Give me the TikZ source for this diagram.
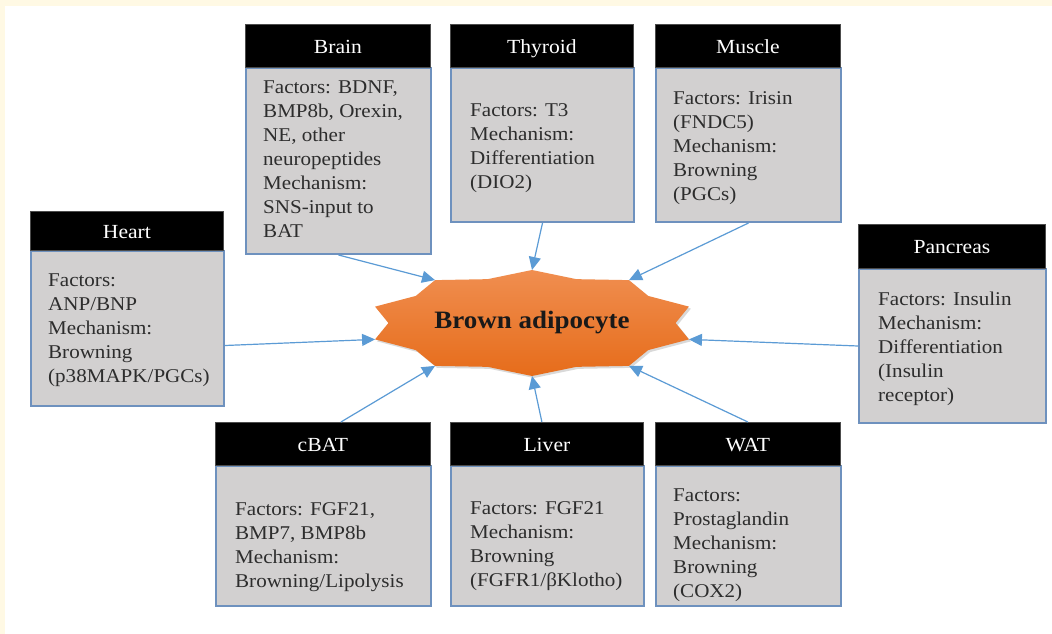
\documentclass[tikz,border=0pt]{standalone}
\usepackage{fontspec}
\setmainfont{Liberation Serif}[FakeStretch=1.08]
\usetikzlibrary{arrows.meta,shadows}
\definecolor{cream}{RGB}{255,249,228}
\definecolor{boxgray}{RGB}{210,208,208}
\definecolor{boxblue}{RGB}{110,145,190}
\definecolor{arrblue}{RGB}{91,155,213}
\definecolor{txtgray}{RGB}{45,45,45}
\definecolor{orangetop}{RGB}{240,142,80}
\definecolor{orangebot}{RGB}{230,108,26}
\begin{document}
\begin{tikzpicture}[x=1pt,y=-1pt,
 hdr/.style={fill=black, draw=black!70, line width=0.8pt, text=white, font=\fontsize{20}{24}\selectfont, anchor=north west, inner sep=0pt, text height=16pt, text depth=1pt},
 bodybox/.style={fill=boxgray, draw=boxblue, line width=2pt, anchor=north west, inner sep=0pt},
 txt/.style={anchor=north west, align=left, inner sep=0pt, text=txtgray, font=\fontsize{19.5}{24}\selectfont},
 arr/.style={draw=arrblue, line width=1.2pt, -{Triangle[length=13pt,width=12pt]}},
 starfill/.style={top color=orangetop, bottom color=orangebot, draw=none,
   drop shadow={shadow xshift=2pt, shadow yshift=-2pt, opacity=0.15, fill=black}}]
\useasboundingbox (0,0) rectangle (1052,634);
\fill[white] (0,0) rectangle (1052,634);
\fill[cream] (0,0) rectangle (1052,6);
\fill[cream] (0,0) rectangle (5,634);

% Brain
\node[bodybox, minimum width=185pt, minimum height=186pt] (brain) at (245,67) {};
\node[hdr, minimum width=185pt, minimum height=43pt] (brainH) at (245,24) {Brain};
\node[txt] (brainT) at (263,81) {Factors: BDNF,\\BMP8b, Orexin,\\NE, other\\neuropeptides\\Mechanism:\\SNS-input to\\BAT};

% Thyroid
\node[bodybox, minimum width=183pt, minimum height=154pt] (thyroid) at (450,67) {};
\node[hdr, minimum width=183pt, minimum height=43pt] (thyroidH) at (450,24) {Thyroid};
\node[txt] (thyroidT) at (470,103) {Factors: T3\\Mechanism:\\Differentiation\\(DIO2)};

% Muscle
\node[bodybox, minimum width=185pt, minimum height=154pt] (muscle) at (655,67) {};
\node[hdr, minimum width=185pt, minimum height=43pt] (muscleH) at (655,24) {Muscle};
\node[txt] (muscleT) at (673,91) {Factors: Irisin\\(FNDC5)\\Mechanism:\\Browning\\(PGCs)};

% Heart
\node[bodybox, minimum width=193pt, minimum height=155pt] (heart) at (30,250) {};
\node[hdr, minimum width=193pt, minimum height=39pt] (heartH) at (30,211) {Heart};
\node[txt] (heartT) at (48,274) {Factors:\\ANP/BNP\\Mechanism:\\Browning\\(p38MAPK/PGCs)};

% Pancreas
\node[bodybox, minimum width=187pt, minimum height=154pt] (pancreas) at (858,268) {};
\node[hdr, minimum width=187pt, minimum height=44pt] (pancreasH) at (858,224) {Pancreas};
\node[txt] (pancreasT) at (878,292) {Factors: Insulin\\Mechanism:\\Differentiation\\(Insulin\\receptor)};

% cBAT
\node[bodybox, minimum width=215pt, minimum height=140pt] (cbat) at (215,465) {};
\node[hdr, minimum width=215pt, minimum height=43pt] (cbatH) at (215,422) {cBAT};
\node[txt] (cbatT) at (235,502) {Factors: FGF21,\\BMP7, BMP8b\\Mechanism:\\Browning/Lipolysis};

% Liver
\node[bodybox, minimum width=193pt, minimum height=140pt] (liver) at (450,465) {};
\node[hdr, minimum width=193pt, minimum height=43pt] (liverH) at (450,422) {Liver};
\node[txt] (liverT) at (470,501) {Factors: FGF21\\Mechanism:\\Browning\\(FGFR1/βKlotho)};

% WAT
\node[bodybox, minimum width=185pt, minimum height=140pt] (wat) at (655,465) {};
\node[hdr, minimum width=185pt, minimum height=43pt] (watH) at (655,422) {WAT};
\node[txt] (watT) at (673,489) {Factors:\\Prostaglandin\\Mechanism:\\Browning\\(COX2)};

% Star
\begin{scope}[shift={(532,323)}]
\path[starfill] (90:165pt and 53pt) -- (108:143.6pt and 46.1pt)
 -- (126:165pt and 53pt) -- (144:143.6pt and 46.1pt)
 -- (162:165pt and 53pt) -- (180:143.6pt and 46.1pt)
 -- (198:165pt and 53pt) -- (216:143.6pt and 46.1pt)
 -- (234:165pt and 53pt) -- (252:143.6pt and 46.1pt)
 -- (270:165pt and 53pt) -- (288:143.6pt and 46.1pt)
 -- (306:165pt and 53pt) -- (324:143.6pt and 46.1pt)
 -- (342:165pt and 53pt) -- (0:143.6pt and 46.1pt)
 -- (18:165pt and 53pt) -- (36:143.6pt and 46.1pt)
 -- (54:165pt and 53pt) -- (72:143.6pt and 46.1pt) -- cycle;
\coordinate (s90) at (90:165pt and 53pt);
\coordinate (s126) at (126:165pt and 53pt);
\coordinate (s54) at (54:165pt and 53pt);
\coordinate (s198) at (198:165pt and 53pt);
\coordinate (s342) at (342:165pt and 53pt);
\coordinate (s234) at (234:165pt and 53pt);
\coordinate (s270) at (270:165pt and 53pt);
\coordinate (s306) at (306:165pt and 53pt);
\end{scope}
\node[font=\fontsize{25}{30}\selectfont\bfseries, text=black!90] (bat) at (532,323) {Brown adipocyte};

% Arrows
\draw[arr] (brain.south) -- (s126);
\draw[arr] (thyroid.south) -- (s90);
\draw[arr] (muscle.south) -- (s54);
\draw[arr] ([yshift=-17pt]heart.east) -- (s198);
\draw[arr] (pancreas.west) -- (s342);
\draw[arr] ([xshift=18pt]cbatH.north) -- (s234);
\draw[arr] ([xshift=-5pt]liverH.north) -- (s270);
\draw[arr] (watH.north) -- (s306);
\end{tikzpicture}
\end{document}
